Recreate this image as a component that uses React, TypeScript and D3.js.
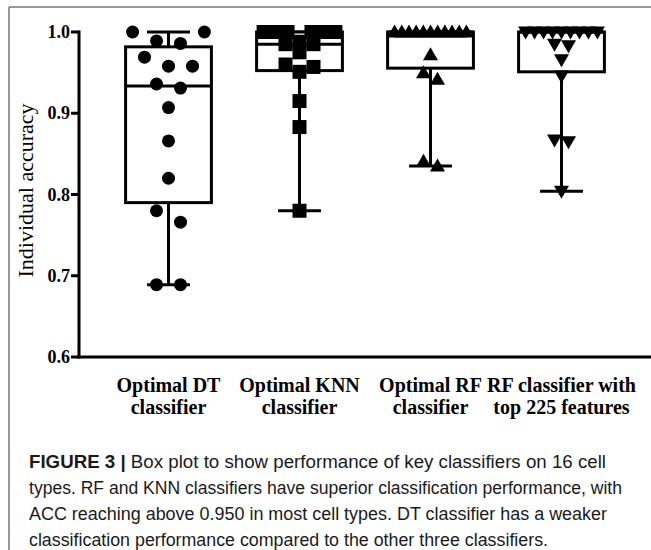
import * as d3 from "d3";
import { useEffect, useRef } from "react";

// categories on the x axis (two lines each)
const categories = ["dt", "knn", "rf", "rf225"];
const categoryLabels = [
  ["Optimal DT", "classifier"],
  ["Optimal KNN", "classifier"],
  ["Optimal RF", "classifier"],
  ["RF classifier with", "top 225 features"],
];

// individual accuracy of the 16 cell types
const dtAccuracy = [1.0, 1.0, 0.989, 0.986, 0.969, 0.958, 0.958, 0.936, 0.931, 0.907, 0.866, 0.82, 0.78, 0.766, 0.689, 0.689];
const knnAccuracy = [1.0, 1.0, 1.0, 1.0, 1.0, 1.0, 0.988, 0.985, 0.985, 0.975, 0.96, 0.957, 0.951, 0.915, 0.883, 0.78];
const rfAccuracy = [1.0, 1.0, 1.0, 1.0, 1.0, 1.0, 1.0, 1.0, 1.0, 1.0, 1.0, 0.972, 0.95, 0.942, 0.841, 0.835];
const rf225Accuracy = [1.0, 1.0, 1.0, 1.0, 1.0, 1.0, 1.0, 1.0, 1.0, 0.985, 0.983, 0.966, 0.946, 0.867, 0.865, 0.804];

const yTicks = [0.6, 0.7, 0.8, 0.9, 1.0];

const captionLines = [
  "Box plot to show performance of key classifiers on 16 cell",
  "types. RF and KNN classifiers have superior classification performance, with",
  "ACC reaching above 0.950 in most cell types. DT classifier has a weaker",
  "classification performance compared to the other three classifiers.",
];
const captionWidths = [577, 593, 578, 519];

const seriesValues = [dtAccuracy, knnAccuracy, rfAccuracy, rf225Accuracy];
const markers = ["circle", "square", "triangle", "triangleDown"];
const markerGap = [24, 14, 14, 14];

// GraphPad style percentile, (n+1)p
const quantile = (sorted: number[], p: number) => {
  const n = sorted.length;
  const h = (n + 1) * p;
  const lo = Math.floor(h);
  if (lo < 1) return sorted[0];
  if (lo >= n) return sorted[n - 1];
  return sorted[lo - 1] + (h - lo) * (sorted[lo] - sorted[lo - 1]);
};

const markerPath = (type: string, x: number, y: number) => {
  if (type === "square") {
    return `M${x - 7},${y - 7}h14v14h-14Z`;
  }
  if (type === "triangle") {
    return `M${x},${y - 7.5}L${x + 7.5},${y + 5.5}L${x - 7.5},${y + 5.5}Z`;
  }
  if (type === "triangleDown") {
    return `M${x},${y + 7.5}L${x + 7.5},${y - 5.5}L${x - 7.5},${y - 5.5}Z`;
  }
  return d3.arc()({ innerRadius: 0, outerRadius: 6.5, startAngle: 0, endAngle: 2 * Math.PI }) || "";
};

const App = () => {
  const svgRef = useRef<SVGSVGElement | null>(null);

  useEffect(() => {
    const svg = d3.select(svgRef.current);
    svg.selectAll("*").remove();

    const x = d3.scaleBand().domain(categories).range([103, 627]);
    const y = d3.scaleLinear().domain([0.6, 1.0]).range([357, 32]);
    const boxW = x.bandwidth() * 0.655;

    // figure frame
    svg.append("line").attr("x1", 9).attr("x2", 651).attr("y1", 7).attr("y2", 7)
      .attr("stroke", "#777").attr("stroke-width", 1.5);
    svg.append("line").attr("x1", 9).attr("x2", 9).attr("y1", 7).attr("y2", 550)
      .attr("stroke", "#777").attr("stroke-width", 1.5);

    // axes
    const axisX = 79;
    const yAxis = svg.append("g");
    yAxis.append("line").attr("x1", axisX).attr("x2", axisX)
      .attr("y1", y(1.0) - 1.5).attr("y2", y(0.6) + 1.5)
      .attr("stroke", "#000").attr("stroke-width", 3);
    yAxis.selectAll(".tick").data(yTicks).enter().append("line")
      .attr("x1", axisX - 8).attr("x2", axisX)
      .attr("y1", (d) => y(d)).attr("y2", (d) => y(d))
      .attr("stroke", "#000").attr("stroke-width", 3);
    yAxis.selectAll(".tl").data(yTicks).enter().append("text")
      .attr("x", axisX - 9).attr("y", (d) => y(d) + 6)
      .attr("text-anchor", "end")
      .attr("font-family", "'Liberation Serif', 'Times New Roman', serif")
      .attr("font-weight", "bold").attr("font-size", 18)
      .text((d) => d3.format(".1f")(d));

    svg.append("text")
      .attr("transform", `translate(33, ${y(0.8) - 4}) rotate(-90)`)
      .attr("text-anchor", "middle")
      .attr("font-family", "'Liberation Serif', 'Times New Roman', serif")
      .attr("font-size", 22)
      .text("Individual accuracy");

    svg.append("line").attr("x1", axisX - 1.5).attr("x2", 651)
      .attr("y1", y(0.6)).attr("y2", y(0.6))
      .attr("stroke", "#000").attr("stroke-width", 3);

    categories.forEach((c, i) => {
      const cx = (x(c) || 0) + x.bandwidth() / 2;
      const lines = categoryLabels[i];
      const t = svg.append("text")
        .attr("text-anchor", "middle")
        .attr("font-family", "'Liberation Serif', 'Times New Roman', serif")
        .attr("font-weight", "bold").attr("font-size", 20);
      lines.forEach((l, j) => {
        t.append("tspan").attr("x", cx).attr("y", 392 + j * 22).text(l);
      });

      // box and whiskers
      const sorted = [...seriesValues[i]].sort(d3.ascending);
      const q1 = quantile(sorted, 0.25);
      const med = quantile(sorted, 0.5);
      const q3 = quantile(sorted, 0.75);
      const lo = sorted[0];
      const hi = sorted[sorted.length - 1];
      const g = svg.append("g").attr("stroke", "#000").attr("stroke-width", 3).attr("fill", "none");
      g.append("line").attr("x1", cx).attr("x2", cx).attr("y1", y(q3)).attr("y2", y(hi));
      g.append("line").attr("x1", cx).attr("x2", cx).attr("y1", y(q1)).attr("y2", y(lo));
      g.append("line").attr("x1", cx - boxW / 4).attr("x2", cx + boxW / 4).attr("y1", y(hi)).attr("y2", y(hi));
      g.append("line").attr("x1", cx - boxW / 4).attr("x2", cx + boxW / 4).attr("y1", y(lo)).attr("y2", y(lo));
      g.append("rect").attr("x", cx - boxW / 2).attr("width", boxW)
        .attr("y", y(q3)).attr("height", y(q1) - y(q3)).attr("fill", "#fff");
      g.append("line").attr("x1", cx - boxW / 2).attr("x2", cx + boxW / 2).attr("y1", y(med)).attr("y2", y(med));

      // spread points horizontally in rows, like a column scatter
      const desc = [...seriesValues[i]].sort(d3.descending);
      const rows: number[][] = [];
      desc.forEach((v) => {
        const row = rows[rows.length - 1];
        if (row && y(v) - y(row[0]) < 12) row.push(v);
        else rows.push([v]);
      });
      const pts: { v: number; dx: number }[] = [];
      rows.forEach((row) => {
        const n = row.length;
        const gap = n > 1 ? Math.min(markerGap[i], (boxW - 14) / (n - 1)) : 0;
        // highest values go to the outside slots
        const slots: number[] = [];
        let a = 0, b = n - 1;
        while (a <= b) {
          slots.push(a++);
          if (a <= b) slots.push(b--);
        }
        row.forEach((v, k) => pts.push({ v, dx: (slots[k] - (n - 1) / 2) * gap }));
      });

      svg.append("g").selectAll("path").data(pts).enter().append("path")
        .attr("d", (d) => markers[i] === "circle" ? markerPath("circle", 0, 0) : markerPath(markers[i], cx + d.dx, y(d.v)))
        .attr("transform", (d) => markers[i] === "circle" ? `translate(${cx + d.dx},${y(d.v)})` : null)
        .attr("fill", "#000");
    });

    // caption
    const cap = svg.append("g")
      .attr("font-family", "'Liberation Sans', Arial, Helvetica, sans-serif")
      .attr("font-size", 17.5).attr("fill", "#1a1a1a");
    captionLines.forEach((l, j) => {
      const t = cap.append("text").attr("x", 29).attr("y", 468 + j * 26)
        .attr("textLength", captionWidths[j]).attr("lengthAdjust", "spacingAndGlyphs");
      if (j === 0) {
        t.append("tspan").attr("font-weight", "bold").text("FIGURE 3 | ");
      }
      t.append("tspan").text(l);
    });
  }, []);

  return (
    <svg
      ref={svgRef}
      width={651}
      height={550}
      style={{ position: "absolute", left: 0, top: 0, background: "#fff" }}
    />
  );
};

export default App;
